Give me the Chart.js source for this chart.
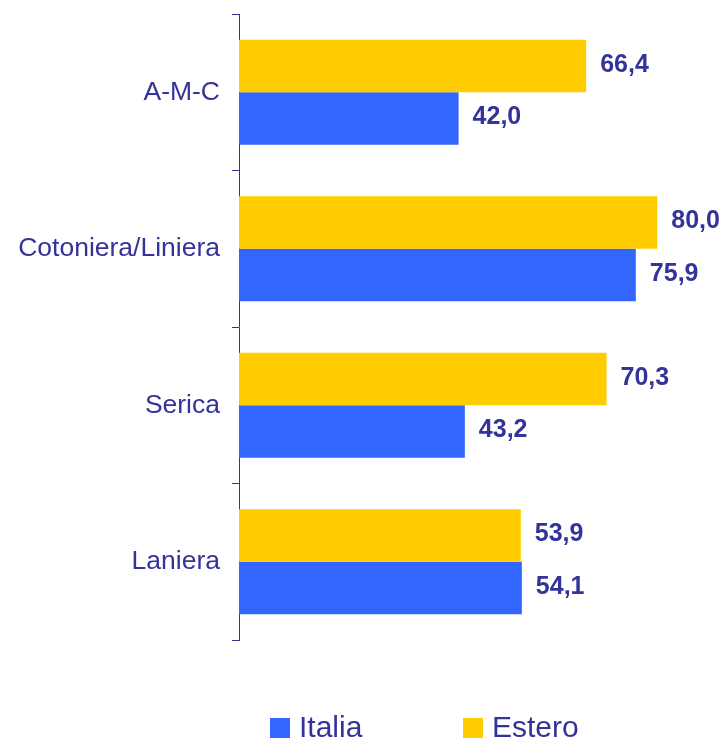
<!DOCTYPE html>
<html>
<head>
<meta charset="utf-8">
<script src="https://cdn.jsdelivr.net/npm/chart.js@4/dist/chart.umd.min.js"></script>
<style>
  html, body { margin: 0; padding: 0; background: #ffffff; }
  #wrap { position: relative; width: 725px; height: 739px; }
</style>
</head>
<body>
<div id="wrap"><canvas id="c" width="725" height="739"></canvas></div>
<script>
const categories = ["A-M-C", "Cotoniera/Liniera", "Serica", "Laniera"];
const estero = [66.4, 80.0, 70.3, 53.9];
const italia = [42.0, 75.9, 43.2, 54.1];
const legendLabels = ["Italia", "Estero"];

const TEXT = "#333399";
const BLUE = "#3366FF";
const YELLOW = "#FFCC00";
const FONT = "'Liberation Sans', Arial, sans-serif";

const valueLabels = {
  id: "valueLabels",
  afterDatasetsDraw(chart) {
    const ctx = chart.ctx;
    ctx.save();
    ctx.fillStyle = TEXT;
    ctx.font = "bold 25px " + FONT;
    ctx.textAlign = "left";
    ctx.textBaseline = "middle";
    chart.data.datasets.forEach((ds, di) => {
      const meta = chart.getDatasetMeta(di);
      meta.data.forEach((bar, i) => {
        const txt = ds.data[i].toFixed(1).replace(".", ",");
        ctx.fillText(txt, bar.x + 14, bar.y - 1);
      });
    });
    ctx.restore();
  }
};

const customLegend = {
  id: "customLegend",
  afterDraw(chart) {
    const ctx = chart.ctx;
    ctx.save();
    ctx.font = "30px " + FONT;
    ctx.textBaseline = "alphabetic";
    ctx.textAlign = "left";
    const items = [
      { label: legendLabels[0], color: BLUE, x: 270 },
      { label: legendLabels[1], color: YELLOW, x: 463 }
    ];
    items.forEach(it => {
      ctx.fillStyle = it.color;
      ctx.fillRect(it.x, 718, 20, 20);
      ctx.fillStyle = TEXT;
      ctx.fillText(it.label, it.x + 29, 737);
    });
    ctx.restore();
  }
};

new Chart(document.getElementById("c"), {
  type: "bar",
  data: {
    labels: categories,
    datasets: [
      { label: "Estero", data: estero, backgroundColor: YELLOW, borderWidth: 0 },
      { label: "Italia", data: italia, backgroundColor: BLUE, borderWidth: 0 }
    ]
  },
  options: {
    indexAxis: "y",
    responsive: false,
    animation: false,
    devicePixelRatio: 1,
    datasets: { bar: { categoryPercentage: 0.671, barPercentage: 1.0 } },
    layout: { padding: { top: 14, bottom: 99, left: 0, right: 5 } },
    plugins: {
      legend: { display: false },
      tooltip: { enabled: false }
    },
    scales: {
      x: {
        display: false,
        min: 0,
        max: 92
      },
      y: {
        afterFit(scale) {
          scale.width = 239;
          scale.paddingTop = 0;
          scale.paddingBottom = 0;
        },
        grid: {
          offset: true,
          drawOnChartArea: false,
          drawTicks: true,
          tickLength: 7,
          color: TEXT,
          lineWidth: 1
        },
        border: { display: true, color: TEXT, width: 1 },
        ticks: {
          color: TEXT,
          padding: 12,
          font: { family: FONT, size: 26.5 }
        }
      }
    }
  },
  plugins: [valueLabels, customLegend]
});
</script>
</body>
</html>
